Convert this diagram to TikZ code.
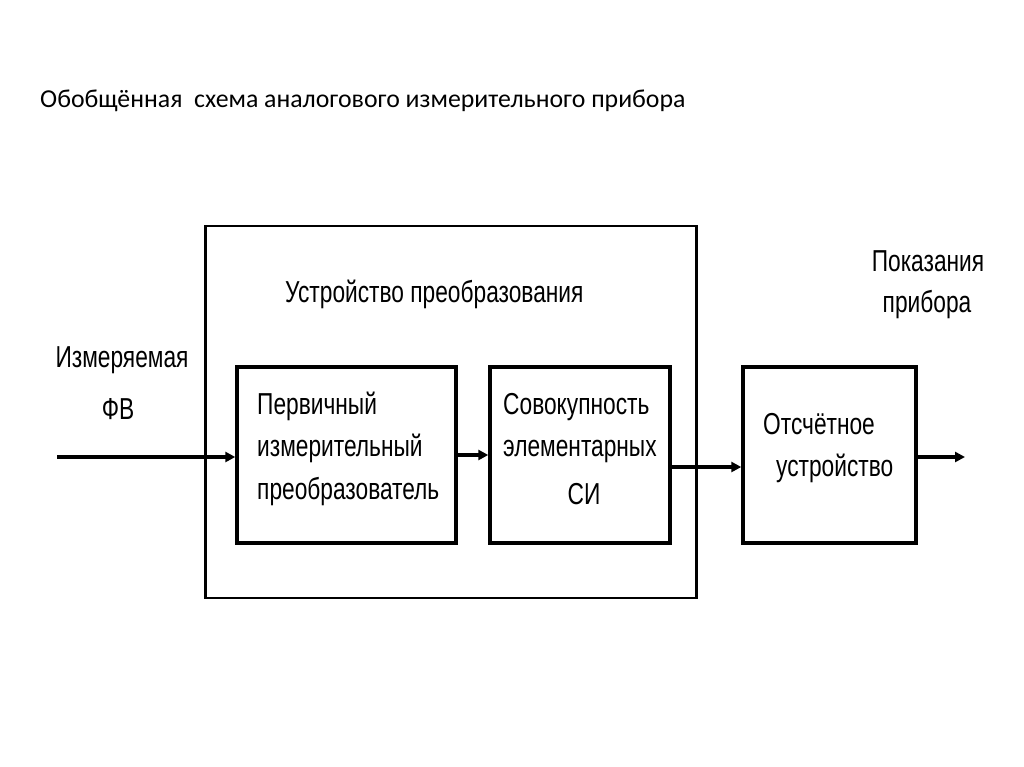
\documentclass[tikz,border=0pt]{standalone}
\usepackage{fontspec}
\setmainfont{Carlito}
\newfontfamily\narrowf[FakeStretch=0.75]{Liberation Sans}
\usetikzlibrary{arrows.meta}
\begin{document}
\begin{tikzpicture}[x=1pt,y=-1pt,
  blk/.style={draw,line width=3.4pt,minimum height=176pt,inner sep=0pt},
  lbl/.style={font=\narrowf\fontsize{30.3}{33}\selectfont,inner sep=0pt},
  conn/.style={line width=3.4pt,-{Triangle[length=10pt,width=10pt]}}]
\useasboundingbox (0,0) rectangle (1024,767);
\node[font=\fontsize{25.8}{28}\selectfont,anchor=base west,inner sep=0pt] (title) at (40,108) {Обобщённая\ \ схема аналогового измерительного прибора};
\node[draw,line width=2.6pt,minimum width=491pt,minimum height=372pt,inner sep=0pt] (outer) at (451,412) {};
\node[blk,minimum width=219pt] (b1) at (346.5,455) {};
\node[blk,minimum width=180pt] (b2) at (580,455) {};
\node[blk,minimum width=173pt] (b3) at (829.5,455) {};
\node[lbl,anchor=base west] (t0) at (285,302) {Устройство преобразования};
\node[lbl,anchor=base] (m1) at (122,367) {Измеряемая};
\node[lbl,anchor=base] (m2) at (118,419) {ФВ};
\node[lbl,anchor=base west] (p1) at (257,414) {Первичный};
\node[lbl,anchor=base west] (p2) at (257,456) {измерительный};
\node[lbl,anchor=base west] (p3) at (257,499) {преобразователь};
\node[lbl,anchor=base west] (s1) at (503,414) {Совокупность};
\node[lbl,anchor=base west] (s2) at (503,456) {элементарных};
\node[lbl,anchor=base] (s3) at (584,504) {СИ};
\node[lbl,anchor=base west] (o1) at (763,434) {Отсчётное};
\node[lbl,anchor=base west] (o2) at (776,476) {устройство};
\node[lbl,anchor=base] (r1) at (928,271) {Показания};
\node[lbl,anchor=base] (r2) at (927,312) {прибора};
\coordinate (in) at (57,457);
\coordinate (c23) at (0,467);
\coordinate (out) at (965,457);
\draw[conn] (in) -- (in -| b1.west);
\draw[conn] (b1.east) -- (b2.west);
\draw[conn] (b2.east |- c23) -- (b3.west |- c23);
\draw[conn] (b3.east |- out) -- (out);
\end{tikzpicture}
\end{document}
